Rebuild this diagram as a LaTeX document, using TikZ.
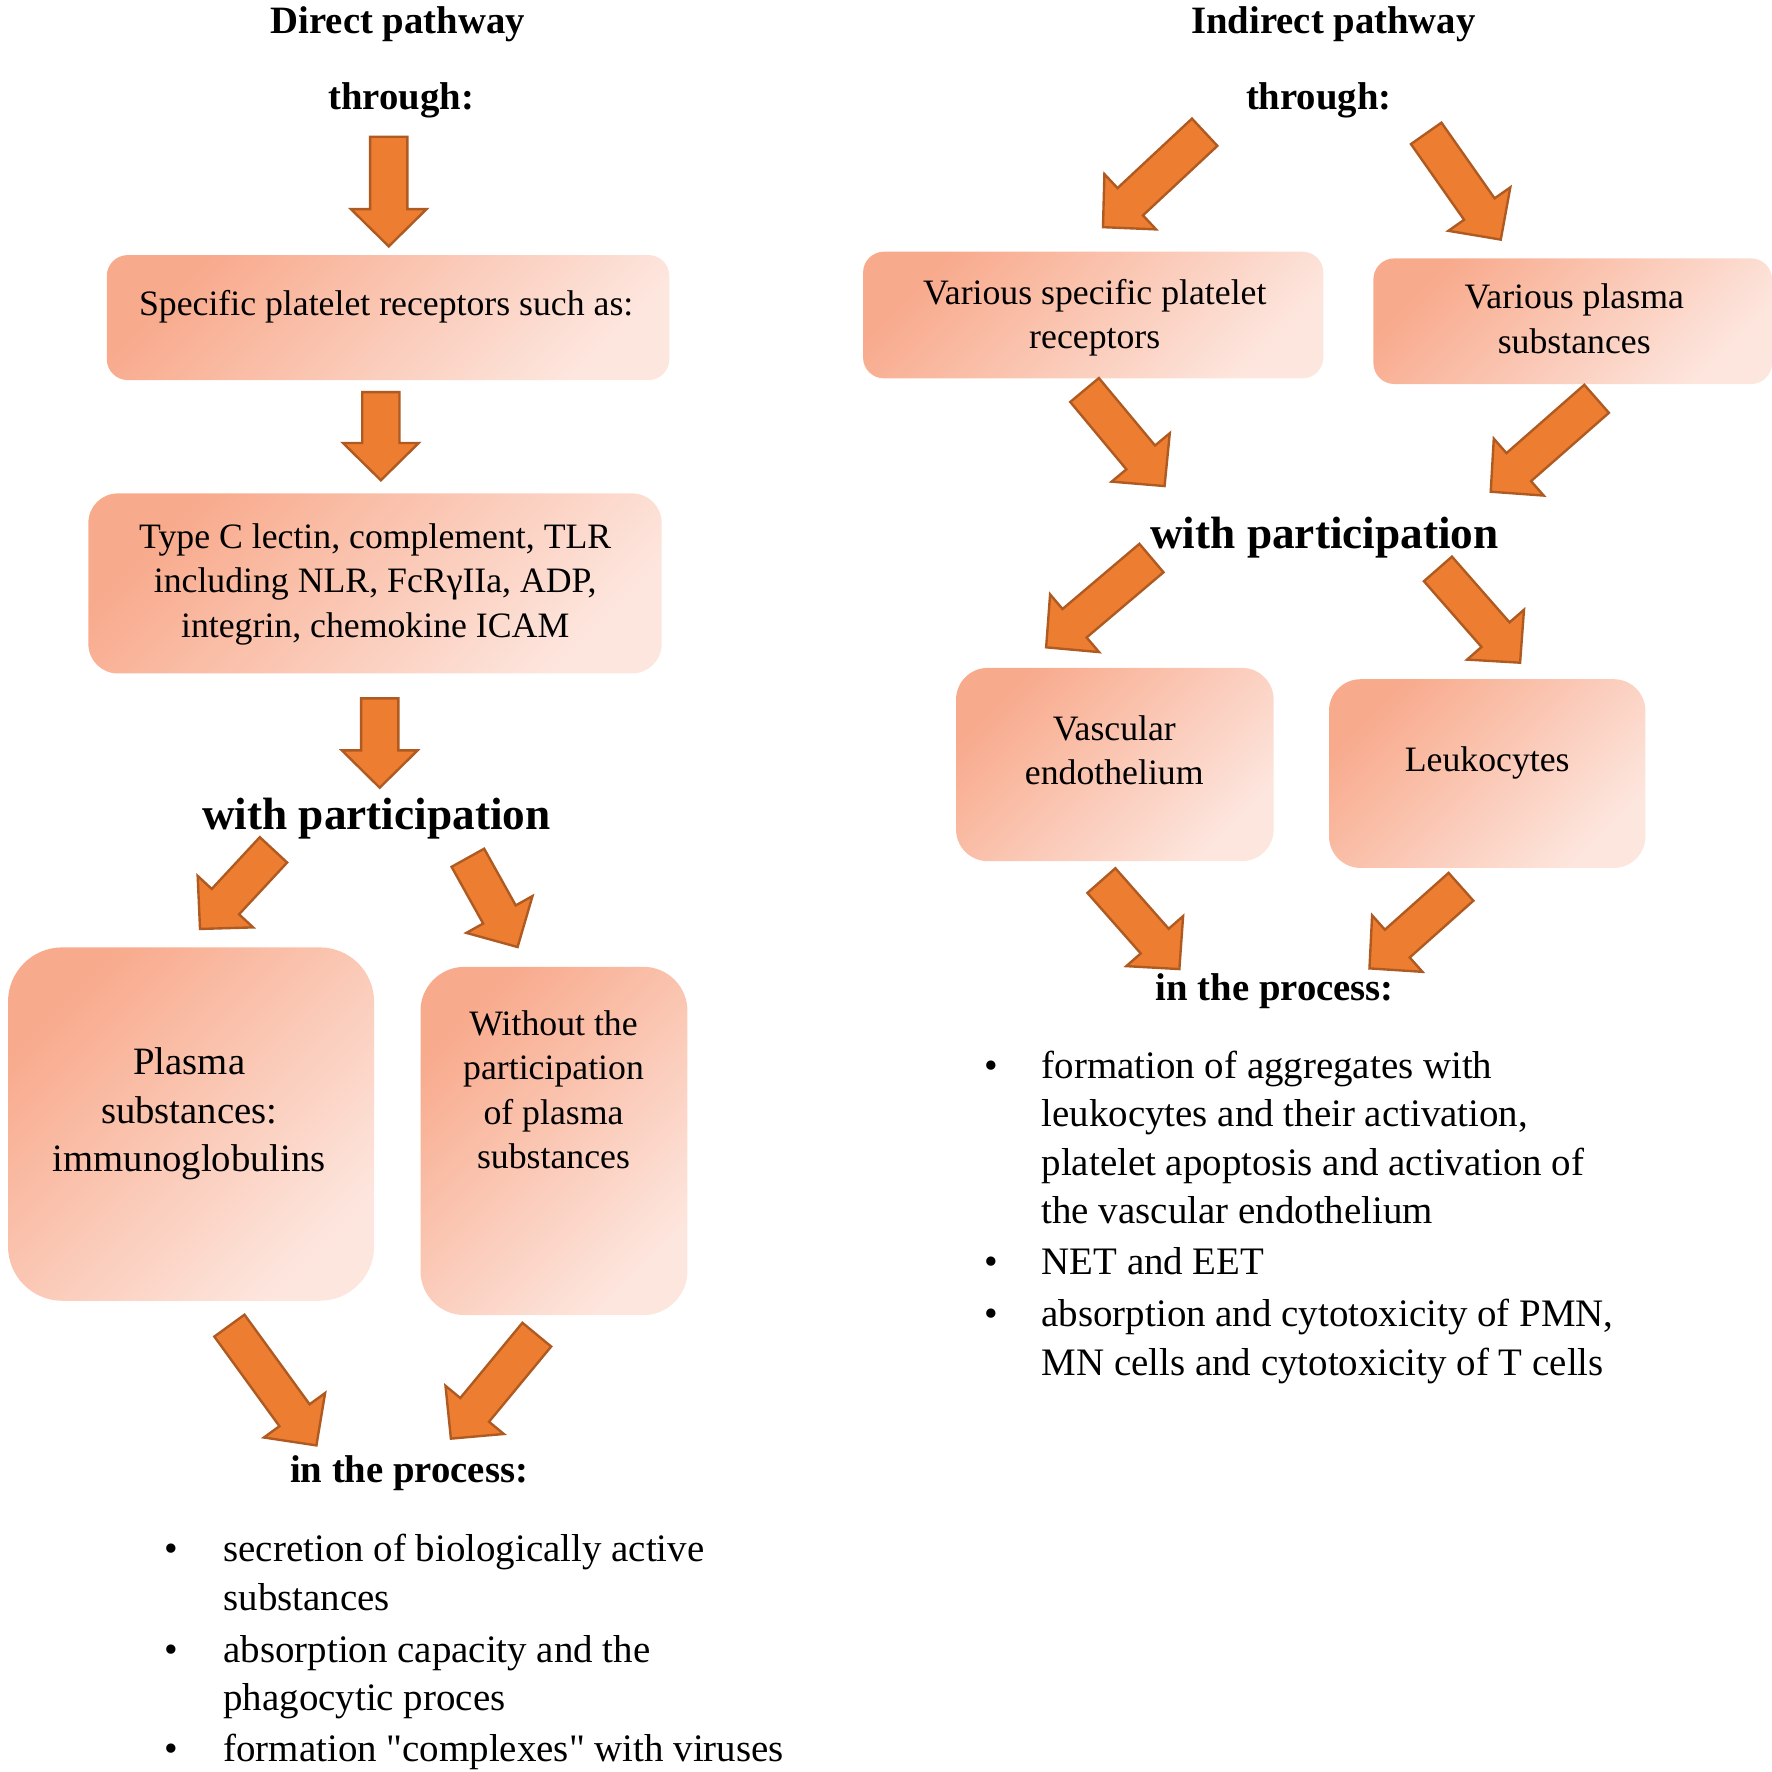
\documentclass[tikz,border=0pt]{standalone}
\usepackage{fontspec}
\setmainfont{Liberation Serif}
\newfontfamily\plainserif{Liberation Serif}
\usetikzlibrary{calc,fit}
\definecolor{arrfill}{RGB}{237,125,49}
\definecolor{arrline}{RGB}{174,90,33}
\definecolor{boxdark}{RGB}{248,170,140}
\definecolor{boxlight}{RGB}{253,230,222}
\newcommand\mlc[1]{\begin{tabular}[t]{@{}c@{}}#1\end{tabular}}
\newcommand\mll[1]{\begin{tabular}[t]{@{}l@{}}#1\end{tabular}}
\newcommand\blockarrow[2]{%
  \coordinate (#1h) at ($(#2)!3.3mm!(#1)$);
  \filldraw[blockarr] ($(#1)!1.65mm!90:(#2)$) -- ($(#1h)!1.65mm!90:(#2)$) -- ($(#1h)!3.35mm!90:(#2)$) -- (#2) -- ($(#1h)!3.35mm!-90:(#2)$) -- ($(#1h)!1.65mm!-90:(#2)$) -- ($(#1)!1.65mm!-90:(#2)$) -- cycle;}
\begin{document}
\begin{tikzpicture}[x=0.1mm,y=-0.1mm,
  blockarr/.style={fill=arrfill, draw=arrline, line width=0.6pt, line join=miter},
  pbox/.style={inner sep=0pt, draw=none, top color=boxdark, bottom color=boxlight, shading angle=45},
  btxt/.style={inner sep=0pt, anchor=base, font=\fontsize{9}{11.2}\selectfont},
  btxtl/.style={inner sep=0pt, anchor=base, font=\fontsize{9.75}{12.2}\selectfont},
  head/.style={inner sep=0pt, anchor=base, font=\bfseries\fontsize{9.75}{12}\selectfont},
  bighead/.style={inner sep=0pt, anchor=base, font=\bfseries\fontsize{11.4}{14}\selectfont},
  item/.style={inner sep=0pt, anchor=base west, font=\fontsize{9.8}{12.2}\selectfont},
  dot/.style={inner sep=0pt, anchor=base, font=\fontsize{9.8}{12.2}\selectfont}]
\useasboundingbox (0,0) rectangle (1568,1568);

% boxes
\node[pbox, rounded corners=1.85mm, fit={(94.5,225.7) (592.3,336.3)}] (b1) {};
\node[pbox, rounded corners=2.6mm, fit={(78.2,436.6) (585.5,595.9)}] (b2) {};
\node[pbox, rounded corners=4.8mm, fit={(7.1,838.3) (331,1151)}] (b3) {};
\node[pbox, rounded corners=3.9mm, fit={(372.1,855.5) (608.3,1163.7)}] (b4) {};
\node[pbox, rounded corners=1.85mm, fit={(763.7,222.7) (1171,334.8)}] (b5) {};
\node[pbox, rounded corners=1.85mm, fit={(1215.3,228.6) (1568,339.8)}] (b6) {};
\node[pbox, rounded corners=2.8mm, fit={(846,591) (1127,762)}] (b7) {};
\node[pbox, rounded corners=2.8mm, fit={(1176,601) (1456,768)}] (b8) {};

% box texts
\node[btxt] (b1t) at (341.7,279) {Specific platelet receptors such as:};
\node[btxt] (b2t) at (332,485) {\mlc{Type C lectin, complement, TLR\\including NLR, FcRγIIa, ADP,\\integrin, chemokine ICAM}};
\node[btxtl] (b3t) at (167.5,951) {\mlc{Plasma\\substances:\\immunoglobulins}};
\node[btxt] (b4t) at (489.8,916) {\mlc{Without the\\participation\\of plasma\\substances}};
\node[btxt] (b5t) at (968.7,269) {\mlc{Various specific platelet\\receptors}};
\node[btxt] (b6t) at (1393,273) {\mlc{Various plasma\\substances}};
\node[btxt] (b7t) at (986,655) {\mlc{Vascular\\endothelium}};
\node[btxt] (b8t) at (1316,683) {Leukocytes};

% headings
\node[head] (dp) at (352,30) {Direct pathway};
\node[head] (dth) at (355,97) {through:};
\node[bighead] (dwp) at (333,734) {with participation};
\node[head] (dip) at (362,1312) {in the process:};
\node[head] (ip) at (1180,30) {Indirect pathway};
\node[head] (ith) at (1167,97) {through:};
\node[bighead] (iwp) at (1172,485) {with participation};
\node[head] (iip) at (1128,885) {in the process:};

% bullet lists
\node[dot] (l1d) at (152,1382) {•};
\node[item] (l1) at (197,1382) {\mll{secretion of biologically active\\substances}};
\node[dot] (l2d) at (152,1471) {•};
\node[item] (l2) at (197,1471) {\mll{absorption capacity and the\\phagocytic proces}};
\node[dot] (l3d) at (152,1559) {•};
\node[item] (l3) at (197,1559) {formation {\plainserif"}complexes{\plainserif"} with viruses};
\node[dot] (r1d) at (877,954) {•};
\node[item] (r1) at (921,954) {\mll{formation of aggregates with\\leukocytes and their activation,\\platelet apoptosis and activation of\\the vascular endothelium}};
\node[dot] (r2d) at (877,1128) {•};
\node[item] (r2) at (921,1128) {NET and EET};
\node[dot] (r3d) at (877,1174) {•};
\node[item] (r3) at (921,1174) {\mll{absorption and cytotoxicity of PMN,\\MN cells and cytotoxicity of T cells}};

% arrow end points
\coordinate (a1t) at (344,121);   \coordinate (a1p) at (344,218);
\coordinate (a2t) at (337,347);   \coordinate (a2p) at (337,425);
\coordinate (a3t) at (336,618);   \coordinate (a3p) at (336,697);
\coordinate (a4t) at (242,752);   \coordinate (a4p) at (177,822);
\coordinate (a5t) at (414,759);   \coordinate (a5p) at (458,838);
\coordinate (a6t) at (203,1173);  \coordinate (a6p) at (280,1279);
\coordinate (a7t) at (475,1181);  \coordinate (a7p) at (399,1273);
\coordinate (a8t) at (1066,117);  \coordinate (a8p) at (976,201);
\coordinate (a9t) at (1262,118);  \coordinate (a9p) at (1328,212);
\coordinate (a10t) at (959.7,345.1);  \coordinate (a10p) at (1030.5,430.1);
\coordinate (a11t) at (1412.8,352.9); \coordinate (a11p) at (1319.1,435.1);
\coordinate (a12t) at (1018.9,493.8); \coordinate (a12p) at (925.7,572.8);
\coordinate (a13t) at (1272.4,503.4); \coordinate (a13p) at (1345.1,586.4);
\coordinate (a14t) at (974.6,779.2);  \coordinate (a14p) at (1043.6,857.5);
\coordinate (a15t) at (1292.8,784.7); \coordinate (a15p) at (1211.8,856.9);

\blockarrow{a1t}{a1p}
\blockarrow{a2t}{a2p}
\blockarrow{a3t}{a3p}
\blockarrow{a4t}{a4p}
\blockarrow{a5t}{a5p}
\blockarrow{a6t}{a6p}
\blockarrow{a7t}{a7p}
\blockarrow{a8t}{a8p}
\blockarrow{a9t}{a9p}
\blockarrow{a10t}{a10p}
\blockarrow{a11t}{a11p}
\blockarrow{a12t}{a12p}
\blockarrow{a13t}{a13p}
\blockarrow{a14t}{a14p}
\blockarrow{a15t}{a15p}
\end{tikzpicture}
\end{document}
